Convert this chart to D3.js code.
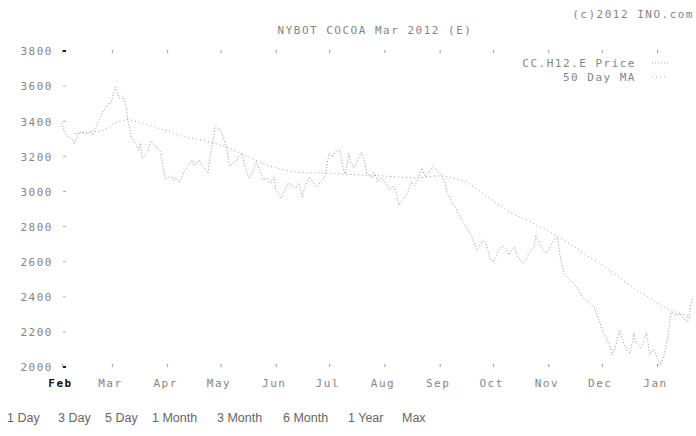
<!DOCTYPE html>
<html><head><meta charset="utf-8">
<script src="https://cdn.jsdelivr.net/npm/d3@7/dist/d3.min.js"></script>
<style>
html,body{margin:0;padding:0;background:#fff;}
svg{display:block;}
.lbl{font-family:"DejaVu Sans Mono",monospace;font-size:11px;fill:#858585;letter-spacing:1.5px;}
.lnk{font-family:"Liberation Sans",Arial,sans-serif;font-size:12.5px;fill:#666;}
</style></head>
<body>
<svg id="c" width="696" height="436"></svg>
<script>
const title = "NYBOT COCOA Mar 2012 (E)";
const copyright = "(c)2012 INO.com";
const legendLabels = ["CC.H12.E Price", "50 Day MA"];
const yTicks = [2000, 2200, 2400, 2600, 2800, 3000, 3200, 3400, 3600, 3800];
const monthTicks = ["2011-02-01","2011-03-01","2011-04-01","2011-05-01","2011-06-01","2011-07-01","2011-08-01","2011-09-01","2011-10-01","2011-11-01","2011-12-01","2012-01-01"];
const rangeLinks = ["1 Day","3 Day","5 Day","1 Month","3 Month","6 Month","1 Year","Max"];

const priceDates = ["2011-02-01","2011-02-02","2011-02-04","2011-02-07","2011-02-08","2011-02-10","2011-02-12","2011-02-15","2011-02-17","2011-02-18","2011-02-20","2011-02-21","2011-02-24","2011-02-27","2011-02-28",
"2011-03-01","2011-03-02","2011-03-03","2011-03-05","2011-03-07","2011-03-09","2011-03-10","2011-03-12","2011-03-15","2011-03-16","2011-03-17","2011-03-18","2011-03-21","2011-03-22","2011-03-23","2011-03-25","2011-03-28","2011-03-29","2011-03-30","2011-03-31",
"2011-04-01","2011-04-03","2011-04-05","2011-04-06","2011-04-08","2011-04-10","2011-04-12","2011-04-15","2011-04-16","2011-04-18","2011-04-19","2011-04-21","2011-04-24","2011-04-25","2011-04-27","2011-04-28",
"2011-05-01","2011-05-02","2011-05-04","2011-05-05","2011-05-06","2011-05-08","2011-05-10","2011-05-11","2011-05-13","2011-05-14","2011-05-17","2011-05-19","2011-05-21","2011-05-23","2011-05-25","2011-05-27","2011-05-29","2011-05-31",
"2011-06-01","2011-06-03","2011-06-04","2011-06-06","2011-06-08","2011-06-11","2011-06-12","2011-06-14","2011-06-16","2011-06-17","2011-06-19","2011-06-20","2011-06-22","2011-06-24","2011-06-27","2011-06-29","2011-06-30",
"2011-07-01","2011-07-03","2011-07-04","2011-07-07","2011-07-08","2011-07-09","2011-07-10","2011-07-12","2011-07-13","2011-07-15","2011-07-17","2011-07-19","2011-07-21","2011-07-22","2011-07-25","2011-07-26","2011-07-27","2011-07-28","2011-07-30",
"2011-08-02","2011-08-04","2011-08-06","2011-08-08","2011-08-09","2011-08-12","2011-08-14","2011-08-16","2011-08-18","2011-08-20","2011-08-22","2011-08-24","2011-08-26","2011-08-28","2011-08-30",
"2011-09-01","2011-09-02","2011-09-04","2011-09-05","2011-09-08","2011-09-10","2011-09-12","2011-09-14","2011-09-16","2011-09-18","2011-09-19","2011-09-20","2011-09-22","2011-09-24","2011-09-25","2011-09-27","2011-09-28","2011-09-29",
"2011-10-01","2011-10-03","2011-10-04","2011-10-06","2011-10-08","2011-10-10","2011-10-11","2011-10-13","2011-10-14","2011-10-16","2011-10-18","2011-10-20","2011-10-22","2011-10-24","2011-10-25","2011-10-26","2011-10-28","2011-10-31",
"2011-11-02","2011-11-03","2011-11-04","2011-11-06","2011-11-07","2011-11-08","2011-11-09","2011-11-10","2011-11-12","2011-11-15","2011-11-18","2011-11-20","2011-11-24","2011-11-27","2011-11-29","2011-11-30",
"2011-12-02","2011-12-05","2011-12-07","2011-12-09","2011-12-11","2011-12-12","2011-12-14","2011-12-16","2011-12-17","2011-12-19","2011-12-20","2011-12-23","2011-12-26","2011-12-27","2011-12-28","2011-12-30","2011-12-31",
"2012-01-01","2012-01-03","2012-01-05","2012-01-07","2012-01-08","2012-01-09","2012-01-10","2012-01-12","2012-01-14","2012-01-15","2012-01-17","2012-01-18","2012-01-19","2012-01-20","2012-01-21"];
const priceValues = [3390,3350,3320,3290,3270,3333,3340,3327,3344,3320,3360,3390,3452,3503,3498,
3520,3560,3595,3532,3543,3486,3407,3304,3264,3236,3276,3190,3220,3265,3287,3258,3236,3180,3122,3065,
3076,3088,3060,3076,3054,3099,3133,3179,3150,3162,3179,3145,3105,3196,3293,3372,
3350,3321,3264,3207,3145,3162,3173,3196,3219,3167,3076,3110,3167,3122,3065,3076,3048,3082,
3008,2980,2962,3008,3048,3031,3019,3048,2968,3019,3065,3082,3048,3025,3065,3093,3167,
3219,3196,3224,3236,3179,3122,3099,3219,3167,3133,3179,3224,3167,3105,3076,3110,3093,3054,3076,
3042,3008,3031,2980,2923,2962,2991,3054,3031,3076,3133,3082,3110,3145,3122,
3105,3093,3054,2997,2934,2906,2866,2826,2797,2763,2740,2712,2666,2700,2723,2706,2666,2626,
2598,2632,2666,2689,2678,2638,2661,2683,2643,2609,2592,2621,2666,2683,2752,2723,2683,2649,
2683,2712,2723,2740,2678,2609,2564,2535,2507,2478,2439,2399,2364,2336,2279,2251,
2194,2137,2068,2125,2211,2171,2114,2085,2080,2194,2142,2108,2194,2137,2068,2097,2085,
2051,2011,2068,2165,2251,2313,2308,2296,2302,2285,2268,2256,2279,2353,2393];

const maDates = ["2011-02-08","2011-02-16","2011-02-23","2011-02-28","2011-03-02","2011-03-06","2011-03-10","2011-03-18","2011-03-25","2011-04-01","2011-04-09","2011-04-18","2011-04-25","2011-05-03","2011-05-12","2011-05-22","2011-05-27","2011-06-03","2011-06-12","2011-06-19","2011-07-01","2011-07-09","2011-07-20","2011-08-01","2011-08-09","2011-08-20","2011-08-29","2011-09-03","2011-09-09","2011-09-16","2011-09-25","2011-10-02","2011-10-11","2011-10-20","2011-10-25","2011-10-31","2011-11-06","2011-11-16","2011-11-22","2011-11-29","2011-12-05","2011-12-12","2011-12-21","2011-12-28","2012-01-01","2012-01-08","2012-01-15","2012-01-20"];
const maValues = [3327,3338,3344,3367,3390,3401,3412,3390,3367,3344,3316,3298,3281,3259,3219,3173,3150,3128,3110,3105,3105,3099,3093,3088,3082,3076,3088,3088,3076,3054,2991,2940,2877,2837,2809,2780,2746,2683,2638,2598,2552,2501,2433,2393,2364,2325,2302,2285];

const parse = d3.timeParse("%Y-%m-%d");
const price = priceDates.map((d,i)=>({date:parse(d), v:priceValues[i]}));
const ma = maDates.map((d,i)=>({date:parse(d), v:maValues[i]}));

const svg = d3.select("#c");
const x = d3.scaleTime().domain([parse("2011-02-01"), parse("2012-01-01")]).range([62, 657]);
const y = d3.scaleLinear().domain([2000, 3800]).range([367, 51]);

// title & copyright
svg.append("text").attr("class","lbl").attr("x",375).attr("y",34).attr("text-anchor","middle").text(title);
svg.append("text").attr("class","lbl").attr("x",694).attr("y",18).attr("text-anchor","end").text(copyright);

// y axis (labels and short tick dashes, no domain line)
const yAxis = d3.axisLeft(y).tickValues(yTicks).tickSize(0).tickPadding(0).tickFormat(d3.format("d"));
const gy = svg.append("g").attr("transform","translate(53,0)").call(yAxis);
gy.select(".domain").remove();
gy.selectAll("text").attr("class","lbl").attr("dy","0.35em");
svg.append("g").selectAll("line").data(yTicks).join("line")
  .attr("x1",63).attr("x2",66).attr("y1",d=>y(d)).attr("y2",d=>y(d))
  .attr("stroke",d=>(d===2000||d===3800)?"#222":"#b0b0b0").attr("stroke-width",d=>(d===2000||d===3800)?2:1);

// x axis: month ticks top and bottom, labels
const months = monthTicks.map(parse);
const xAxis = d3.axisBottom(x).tickValues(months).tickSize(3).tickPadding(12).tickFormat(d3.timeFormat("%b"));
const gx = svg.append("g").attr("transform","translate(0,364)").call(xAxis);
gx.select(".domain").remove();
gx.selectAll("line").attr("stroke","#999");
gx.selectAll("text").attr("class","lbl").attr("dx","-2")
  .style("fill",(d,i)=>i===0?"#111":null).style("font-weight",(d,i)=>i===0?"bold":null);
const xTop = d3.axisBottom(x).tickValues(months).tickSize(3).tickFormat("");
const gxt = svg.append("g").attr("transform","translate(0,50)").call(xTop);
gxt.select(".domain").remove();
gxt.selectAll("line").attr("stroke","#999");

// lines
const line = d3.line().x(d=>x(d.date)).y(d=>y(d.v));
svg.append("path").datum(ma).attr("d",line).attr("fill","none")
  .attr("stroke","#9a9a9a").attr("stroke-width",1).attr("stroke-dasharray","1,3");
svg.append("path").datum(price).attr("d",line).attr("fill","none")
  .attr("stroke","#959595").attr("stroke-width",1).attr("stroke-dasharray","1,2");

// legend
const leg = svg.append("g");
legendLabels.forEach((t,i)=>{
  const yy = 67 + i*14;
  leg.append("text").attr("class","lbl").attr("x",636).attr("y",yy).attr("text-anchor","end").text(t);
  leg.append("line").attr("x1",652).attr("x2",668).attr("y1",yy-4).attr("y2",yy-4)
    .attr("stroke","#aaa").attr("stroke-dasharray", i===0?"1,2":"1,3");
});

// range links
const linkX = [7,58,105,152,217,283,348,402];
svg.append("g").selectAll("text").data(rangeLinks).join("text")
  .attr("class","lnk").attr("x",(d,i)=>linkX[i]).attr("y",422).text(d=>d);
</script>
</body></html>
